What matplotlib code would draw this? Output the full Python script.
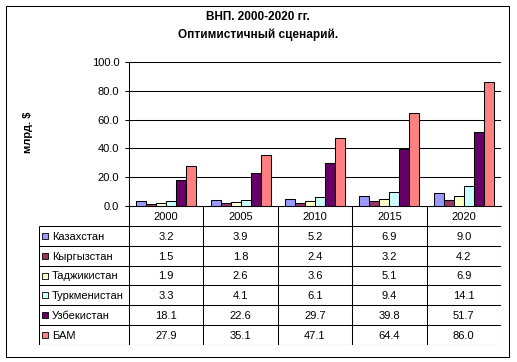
import matplotlib.pyplot as plt
import numpy as np
from matplotlib.patches import Rectangle

plt.rcParams["font.family"] = ["Liberation Sans", "DejaVu Sans"]

years = ["2000", "2005", "2010", "2015", "2020"]
countries = ["Казахстан", "Кыргызстан", "Таджикистан", "Туркменистан", "Узбекистан", "БАМ"]
kazakhstan = [3.2, 3.9, 5.2, 6.9, 9.0]
kyrgyzstan = [1.5, 1.8, 2.4, 3.2, 4.2]
tajikistan = [1.9, 2.6, 3.6, 5.1, 6.9]
turkmenistan = [3.3, 4.1, 6.1, 9.4, 14.1]
uzbekistan = [18.1, 22.6, 29.7, 39.8, 51.7]
bam = [27.9, 35.1, 47.1, 64.4, 86.0]
series = [kazakhstan, kyrgyzstan, tajikistan, turkmenistan, uzbekistan, bam]
colors = ["#9999FF", "#993366", "#FFFFCC", "#CCFFFF", "#660066", "#FF8080"]

W, H = 517, 362
fig = plt.figure(figsize=(W / 100, H / 100), dpi=100)


def px_axes(x0, y0, x1, y1):
    # pixel box (top-left origin) -> figure axes
    return fig.add_axes([x0 / W, 1 - y1 / H, (x1 - x0) / W, (y1 - y0) / H])


lw = 0.75

# outer frame
fig.patches.append(Rectangle((5.5 / W, 1 - 356.5 / H), 503 / W, 351 / H,
                             transform=fig.transFigure, fill=False,
                             edgecolor="black", linewidth=lw))

fig.text(258 / W, 1 - 17 / H, "ВНП. 2000-2020 гг.", ha="center", va="center",
         fontsize=8.5, fontweight="bold")
fig.text(258 / W, 1 - 35 / H, "Оптимистичный сценарий.", ha="center", va="center",
         fontsize=8.5, fontweight="bold")

# bar chart
ax = px_axes(129, 62, 501, 206)
x = np.arange(len(years))
bw = 0.134
for j, (vals, c) in enumerate(zip(series, colors)):
    ax.bar(x + (j - 2.5) * bw, vals, bw, color=c, edgecolor="black", linewidth=lw, zorder=3)
ax.set_xlim(-0.5, 4.5)
ax.set_ylim(0, 100)
ax.set_yticks(np.arange(0, 101, 20))
ax.set_yticklabels([f"{v:.1f}" for v in np.arange(0, 101, 20)], fontsize=8)
ax.yaxis.grid(True, color="black", linewidth=lw, zorder=0)
ax.set_xticks([])
for s in ["top", "right"]:
    ax.spines[s].set_visible(False)
for s in ["left", "bottom"]:
    ax.spines[s].set_linewidth(lw)
ax.tick_params(axis="y", length=3, width=lw, pad=4)
ax.set_facecolor("none")
fig.text(28 / W, 1 - 132 / H, "млрд. $", rotation=90, ha="center", va="center",
         fontsize=8, fontweight="bold")

# data table
tx = px_axes(39, 206, 501, 345)
lab_w = 90 / 74.4
nrows = len(countries) + 1
tx.set_xlim(-lab_w, len(years))
tx.set_ylim(nrows, 0)
tx.axis("off")
tx.hlines(0, 0, len(years), color="black", linewidth=lw)
tx.hlines(np.arange(1, nrows + 1), -lab_w, len(years), color="black", linewidth=lw)
tx.vlines(-lab_w, 1, nrows, color="black", linewidth=lw)
tx.vlines(np.arange(0, len(years) + 1), 0, nrows, color="black", linewidth=lw)
for i, yr in enumerate(years):
    tx.text(i + 0.5, 0.55, yr, ha="center", va="center", fontsize=8)
for r, (name, vals, c) in enumerate(zip(countries, series, colors)):
    yc = r + 1.55
    tx.scatter([-lab_w + 0.085], [yc - 0.05], marker="s", s=24, color=c,
               edgecolors="black", linewidths=0.6, clip_on=False)
    tx.text(-lab_w + 0.17, yc, name, ha="left", va="center", fontsize=8)
    for i, v in enumerate(vals):
        tx.text(i + 0.5, yc, f"{v:.1f}", ha="center", va="center", fontsize=8)

fig.savefig("out.png", dpi=100)
